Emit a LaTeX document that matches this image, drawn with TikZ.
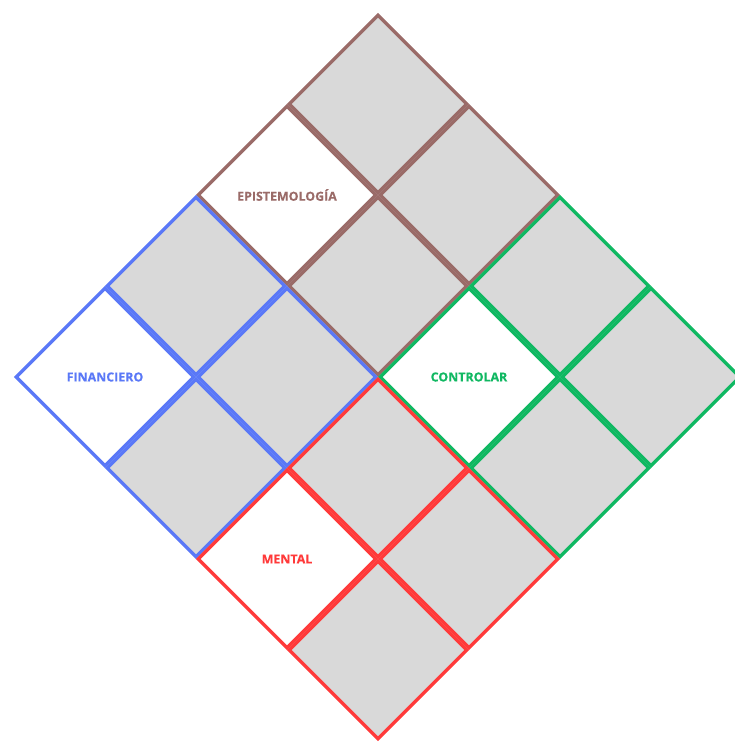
\documentclass[tikz,border=0pt]{standalone}
\usepackage{fontspec}
\setmainfont{Open Sans}
\newfontfamily\labelfont{Open Sans}[FakeBold=0.4]
\usetikzlibrary{shapes.geometric}
\definecolor{cbrown}{HTML}{9A6B68}
\definecolor{cblue}{HTML}{5A78F7}
\definecolor{cgreen}{HTML}{10B862}
\definecolor{cred}{HTML}{FF3A3A}
\definecolor{cgray}{HTML}{D9D9D9}
\tikzset{
  cellbox/.style={diamond, aspect=1, inner sep=0pt, outer sep=0pt,
    minimum width=177.4pt, minimum height=177.4pt, line width=3.3pt, line join=miter},
  graycell/.style={cellbox, fill=cgray},
  whitecell/.style={cellbox, fill=white},
  celltext/.style={font=\labelfont\bfseries\fontsize{12.4}{14}\selectfont, inner sep=0pt}
}
\begin{document}
\begin{tikzpicture}[x=1pt,y=-1pt]
\useasboundingbox (0,0) rectangle (735,742);
\clip (0,0) rectangle (735,742);
% cell (i,j) center: (378+91(i-j), 13+91(i+j+1))
% top quadrant (brown)
\node[graycell, draw=cbrown] (b00) at (378,104) {};
\node[graycell, draw=cbrown] (b10) at (469,195) {};
\node[whitecell, draw=cbrown] (b01) at (287,195) {};
\node[graycell, draw=cbrown] (b11) at (378,286) {};
% right quadrant (green)
\node[graycell, draw=cgreen] (g20) at (560,286) {};
\node[graycell, draw=cgreen] (g30) at (651,377) {};
\node[whitecell, draw=cgreen] (g21) at (469,377) {};
\node[graycell, draw=cgreen] (g31) at (560,468) {};
% left quadrant (blue)
\node[graycell, draw=cblue] (l02) at (196,286) {};
\node[whitecell, draw=cblue] (l03) at (105,377) {};
\node[graycell, draw=cblue] (l12) at (287,377) {};
\node[graycell, draw=cblue] (l13) at (196,468) {};
% bottom quadrant (red)
\node[graycell, draw=cred] (r22) at (378,468) {};
\node[whitecell, draw=cred] (r23) at (287,559) {};
\node[graycell, draw=cred] (r32) at (469,559) {};
\node[graycell, draw=cred] (r33) at (378,650) {};
% labels
\node[celltext, text=cbrown] (tE) at (b01) {EPISTEMOLOGÍA};
\node[celltext, text=cgreen] (tC) at (g21) {CONTROLAR};
\node[celltext, text=cblue] (tF) at (l03) {FINANCIERO};
\node[celltext, text=cred] (tM) at (r23) {MENTAL};
\end{tikzpicture}
\end{document}
